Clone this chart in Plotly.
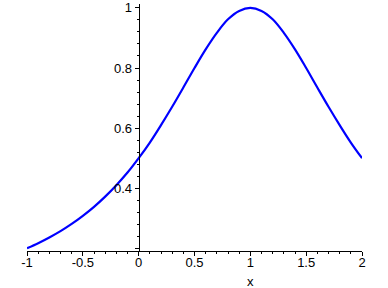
import plotly.graph_objects as go

x_vals = [-1.0, -0.9, -0.8, -0.7, -0.6, -0.5, -0.4, -0.3, -0.2, -0.1, 0.0,
          0.1, 0.2, 0.3, 0.4, 0.5, 0.6, 0.7, 0.8, 0.9, 1.0,
          1.1, 1.2, 1.3, 1.4, 1.5, 1.6, 1.7, 1.8, 1.9, 2.0]
y_vals = [0.200, 0.217, 0.236, 0.257, 0.281, 0.308, 0.338, 0.372, 0.410, 0.452, 0.500,
          0.552, 0.610, 0.671, 0.735, 0.800, 0.862, 0.917, 0.962, 0.990, 1.000,
          0.990, 0.962, 0.917, 0.862, 0.800, 0.735, 0.671, 0.610, 0.552, 0.500]
x_ticks = [-1, -0.5, 0, 0.5, 1, 1.5, 2]
x_tick_labels = ["-1", "-0.5", "0", "0.5", "1", "1.5", "2"]
y_ticks = [0.2, 0.4, 0.6, 0.8, 1.0]
y_tick_labels = ["", "0.4", "0.6", "0.8", "1"]
x_title = "x"

fig = go.Figure()
fig.add_trace(go.Scatter(x=x_vals, y=y_vals, mode="lines",
                         line=dict(color="#0000ff", width=2.2, shape="spline"),
                         hoverinfo="skip", cliponaxis=False))

font = dict(family="Liberation Sans, Arial, sans-serif", size=13, color="black")

fig.update_layout(
    width=388, height=288,
    margin=dict(l=27, r=26, t=4, b=37, autoexpand=False),
    paper_bgcolor="white", plot_bgcolor="white",
    showlegend=False,
    font=font,
    xaxis=dict(range=[-1, 2], tickvals=x_ticks, ticktext=x_tick_labels,
               showgrid=False, zeroline=False, showline=True, linecolor="black", linewidth=1,
               ticks="outside", ticklen=4, tickcolor="black", tickwidth=1,
               minor=dict(dtick=0.1, tick0=0, ticks="outside", ticklen=2, tickcolor="black", showgrid=False),
               anchor="y", tickfont=font, ticklabelstandoff=-5, automargin=False),
    yaxis=dict(range=[0.191, 1.013], tickvals=y_ticks, ticktext=y_tick_labels,
               showgrid=False, zeroline=False, showline=True, linecolor="black", linewidth=1,
               ticks="outside", ticklen=4, tickcolor="black", tickwidth=1,
               minor=dict(dtick=0.04, tick0=0.2, ticks="outside", ticklen=2, tickcolor="black", showgrid=False),
               anchor="free", position=1/3, tickfont=font, automargin=False),
    annotations=[dict(text=x_title, xref="paper", yref="paper", x=2/3, y=0,
                      yshift=-30, showarrow=False, font=font, xanchor="center", yanchor="middle")],
)

fig.write_html("out.html")
